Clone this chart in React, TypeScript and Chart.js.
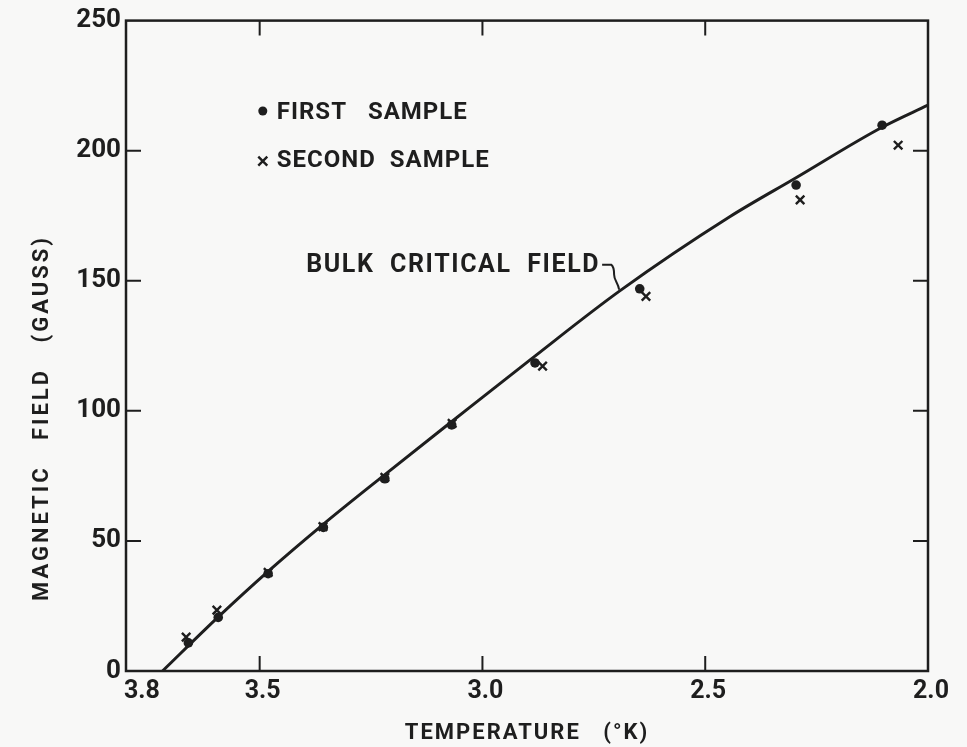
import React, { useEffect, useRef } from "react";
import { Chart, registerables } from "chart.js";

Chart.register(...registerables);

// Bulk critical field curve
const curveTemp = [3.718, 3.594, 3.481, 3.358, 3.219, 3.068, 2.893, 2.691, 2.445, 2.299, 2.103, 2.0];
const curveField = [0, 20.6, 38.3, 56.3, 75.5, 96.0, 119.6, 146.2, 174.6, 189.3, 209.0, 217.5];

// First sample (dots)
const firstTemp = [3.66, 3.593, 3.481, 3.357, 3.219, 3.069, 2.882, 2.647, 2.296, 2.103];
const firstField = [10.8, 20.6, 37.4, 55.2, 73.9, 94.6, 118.4, 146.9, 186.8, 209.8];

// Second sample (crosses)
const secondTemp = [3.665, 3.596, 3.481, 3.358, 3.219, 3.068, 2.865, 2.633, 2.287, 2.067];
const secondField = [13.0, 23.4, 37.9, 55.5, 74.4, 95.2, 117.2, 144.0, 181.1, 202.1];

// Axes
const xTickValues = [3.8, 3.5, 3.0, 2.5, 2.0];
const xTickLabels = ["3.8", "3.5", "3.0", "2.5", "2.0"];
const xInnerTicks = [3.5, 3.0, 2.5];
const yInnerTicks = [50, 100, 150, 200];

// Texts
const legendLabels = ["FIRST   SAMPLE", "SECOND  SAMPLE"];
const curveLabel = "BULK  CRITICAL  FIELD";
const xTitle = "TEMPERATURE   (°K)";
const yTitle = "MAGNETIC   FIELD   (GAUSS)";

const INK = "#1e1e1e";
const FONT = "Roboto, 'DejaVu Sans', sans-serif";

const paperPlugin = {
  id: "paper",
  beforeDraw(chart: any) {
    const ctx = chart.ctx;
    ctx.save();
    ctx.fillStyle = "#f8f8f7";
    ctx.fillRect(0, 0, chart.width, chart.height);
    ctx.restore();
  },
  afterDraw(chart: any) {
    const ctx = chart.ctx;
    const xs = chart.scales.x;
    const ys = chart.scales.y;
    const { left, right, top, bottom } = chart.chartArea;
    ctx.save();
    ctx.strokeStyle = INK;
    ctx.fillStyle = INK;

    // frame
    ctx.lineWidth = 2.5;
    ctx.strokeRect(left, top, right - left, bottom - top);

    // inward ticks
    ctx.lineWidth = 2;
    const tl = 15;
    ctx.beginPath();
    xInnerTicks.forEach((v) => {
      const px = xs.getPixelForValue(v);
      ctx.moveTo(px, bottom);
      ctx.lineTo(px, bottom - tl);
      ctx.moveTo(px, top);
      ctx.lineTo(px, top + tl);
    });
    yInnerTicks.forEach((v) => {
      const py = ys.getPixelForValue(v);
      ctx.moveTo(left, py);
      ctx.lineTo(left + tl, py);
      ctx.moveTo(right, py);
      ctx.lineTo(right - tl, py);
    });
    ctx.stroke();

    // x tick labels
    ctx.font = `bold 25px ${FONT}`;
    ctx.textBaseline = "alphabetic";
    xTickValues.forEach((v, i) => {
      const px = xs.getPixelForValue(v);
      if (i === 0) {
        ctx.textAlign = "left";
        ctx.fillText(xTickLabels[i], px - 2, bottom + 27);
      } else {
        ctx.textAlign = "center";
        ctx.fillText(xTickLabels[i], px + 3, bottom + 27);
      }
    });

    // axis titles
    ctx.font = `bold 22px ${FONT}`;
    (ctx as any).letterSpacing = "2px";
    ctx.textAlign = "center";
    ctx.textBaseline = "middle";
    ctx.fillText(xTitle, (left + right) / 2, 733);

    ctx.save();
    ctx.translate(42, 418);
    ctx.rotate(-Math.PI / 2);
    (ctx as any).letterSpacing = "3px";
    ctx.fillText(yTitle, 0, 0);
    ctx.restore();

    // legend
    ctx.font = `bold 24px ${FONT}`;
    (ctx as any).letterSpacing = "1px";
    ctx.textAlign = "left";
    ctx.textBaseline = "middle";
    const lx = xs.getPixelForValue(3.493);
    const ly1 = ys.getPixelForValue(214.5);
    const ly2 = ys.getPixelForValue(196);
    ctx.beginPath();
    ctx.arc(lx, ly1 - 2, 4.5, 0, Math.PI * 2);
    ctx.fill();
    ctx.lineWidth = 2.4;
    ctx.beginPath();
    ctx.moveTo(lx - 4.5, ly2 - 4.5);
    ctx.lineTo(lx + 4.5, ly2 + 4.5);
    ctx.moveTo(lx + 4.5, ly2 - 4.5);
    ctx.lineTo(lx - 4.5, ly2 + 4.5);
    ctx.stroke();
    ctx.fillText(legendLabels[0], lx + 14, ly1);
    ctx.fillText(legendLabels[1], lx + 14, ly2);

    // curve annotation with leader
    const cx = xs.getPixelForValue(2.691);
    const cy = ys.getPixelForValue(146.2);
    ctx.font = `bold 25px ${FONT}`;
    (ctx as any).letterSpacing = "1.6px";
    ctx.textAlign = "right";
    ctx.fillText(curveLabel, cx - 20, cy - 25);
    (ctx as any).letterSpacing = "0px";
    ctx.lineWidth = 2;
    ctx.beginPath();
    ctx.moveTo(cx - 18, cy - 26);
    ctx.lineTo(cx - 9, cy - 26);
    ctx.quadraticCurveTo(cx - 6, cy - 24, cx - 6, cy - 16);
    ctx.bezierCurveTo(cx - 6, cy - 10, cx - 2, cy - 8, cx - 1, cy - 1);
    ctx.stroke();

    ctx.restore();
  },
};

export default function App() {
  const canvasRef = useRef<HTMLCanvasElement | null>(null);

  useEffect(() => {
    if (!canvasRef.current) return;
    const curve = curveTemp.map((t, i) => ({ x: t, y: curveField[i] }));
    const first = firstTemp.map((t, i) => ({ x: t, y: firstField[i] }));
    const second = secondTemp.map((t, i) => ({ x: t, y: secondField[i] }));

    const chart = new Chart(canvasRef.current, {
      type: "scatter",
      data: {
        datasets: [
          {
            label: "Bulk critical field",
            data: curve,
            showLine: true,
            cubicInterpolationMode: "monotone",
            borderColor: INK,
            borderWidth: 3,
            pointRadius: 0,
            fill: false,
          },
          {
            label: "First sample",
            data: first,
            pointStyle: "circle",
            pointRadius: 4.8,
            backgroundColor: INK,
            borderColor: INK,
            borderWidth: 0,
          },
          {
            label: "Second sample",
            data: second,
            pointStyle: "crossRot",
            pointRadius: 6,
            borderColor: INK,
            borderWidth: 2.4,
          },
        ],
      },
      options: {
        animation: false,
        responsive: true,
        maintainAspectRatio: false,
        layout: { padding: { top: 18, right: 39, left: 0, bottom: 76 } },
        plugins: {
          legend: { display: false },
          tooltip: { enabled: false },
        },
        scales: {
          x: {
            type: "linear",
            display: false,
            reverse: true,
            min: 2.0,
            max: 3.8,
          },
          y: {
            type: "linear",
            min: 0,
            max: 250,
            grid: { display: false, drawTicks: false },
            border: { display: false },
            afterFit: (scale: any) => {
              scale.width = 126;
            },
            ticks: {
              stepSize: 50,
              autoSkip: false,
              padding: 5,
              color: INK,
              font: { family: FONT, size: 26, weight: "bold" },
            },
          },
        },
      },
      plugins: [paperPlugin],
    });
    return () => chart.destroy();
  }, []);

  return (
    <div style={{ position: "fixed", left: 0, top: 0, width: 967, height: 747 }}>
      <canvas ref={canvasRef} />
    </div>
  );
}
